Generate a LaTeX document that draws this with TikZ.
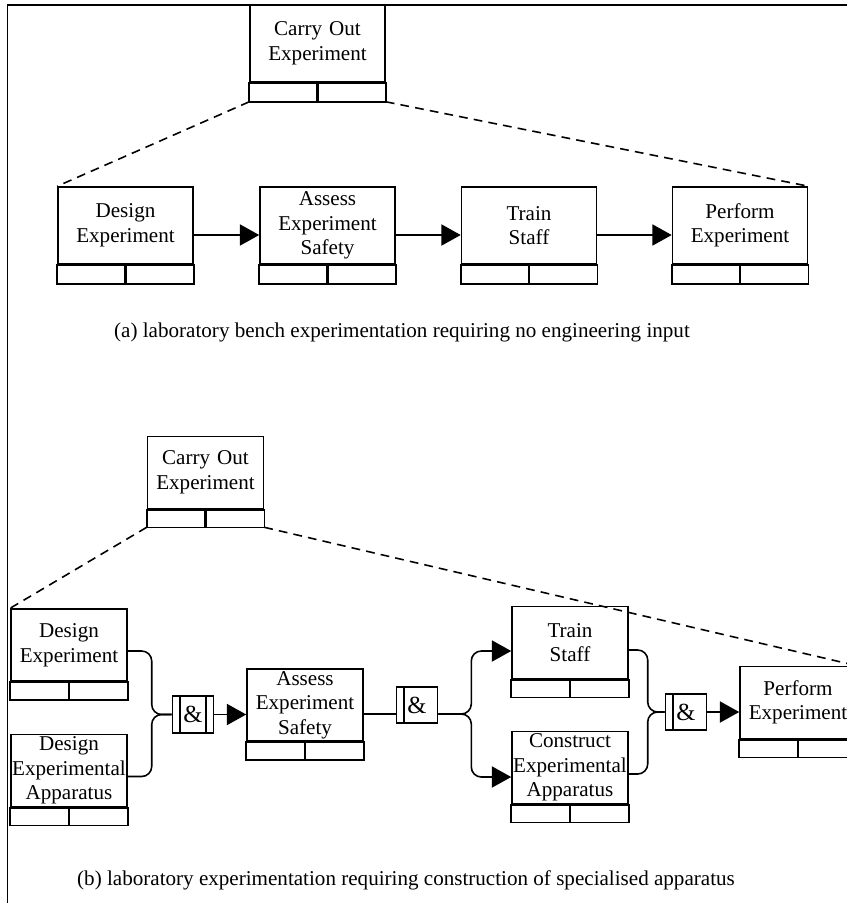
\documentclass[tikz,border=0pt]{standalone}
\usepackage{fontspec}
\setmainfont{Liberation Serif}
\usetikzlibrary{arrows.meta}

\newcommand{\uobfont}{\fontsize{12}{14}\selectfont}
\newcommand{\juncfont}{\fontsize{14}{16}\selectfont}

\tikzset{
	uob/.style={draw, line width=0.9pt, inner sep=0pt, align=center, font=\uobfont},
	uobA/.style={uob, text width=27mm, minimum height=15.4mm},
	uobB/.style={uob, text width=23.2mm, minimum height=14.4mm},
	flow/.style={line width=0.9pt, -{Triangle[length=11pt,width=12pt]}},
	link/.style={line width=0.9pt, rounded corners=2mm},
	decomp/.style={line width=0.9pt, dash pattern=on 5pt off 3.5pt},
	junc/.style={draw, line width=0.9pt, inner sep=0pt, minimum width=8.2mm, minimum height=7.3mm, font=\juncfont,
		path picture={\draw[line width=0.9pt] ([xshift=1.5mm]path picture bounding box.south west) -- ([xshift=1.5mm]path picture bounding box.north west);}},
	juncboth/.style={junc,
		path picture={\draw[line width=0.9pt] ([xshift=1.5mm]path picture bounding box.south west) -- ([xshift=1.5mm]path picture bounding box.north west)
			([xshift=-1.5mm]path picture bounding box.south east) -- ([xshift=-1.5mm]path picture bounding box.north east);}},
}

\begin{document}
\begin{tikzpicture}[x=0.2mm, y=-0.2mm]
		\useasboundingbox (0,0) rectangle (847,903);
		\draw[line width=1.1pt] (847,5) -- (7.5,5) -- (7.5,903);
		
		% (a) bench experimentation
		\node[uobA] (ce1) at (317.5,43.5) {Carry Out\\Experiment};
		\node[uobA] (de1) at (125.5,225.5) {Design\\Experiment};
		\node[uobA] (ae1) at (327.5,225.5) {Assess\\Experiment\\Safety};
		\node[uobA] (ts1) at (529,225.5) {Train\\Staff};
		\node[uobA] (pe1) at (740,225.5) {Perform\\Experiment};
		\node[font=\uobfont] (capa) at (402,332) {(a) laboratory bench experimentation requiring no engineering input};
		
		\foreach \n in {ce1,de1,ae1,ts1,pe1} {
			\draw[line width=0.9pt] (\n.south west) rectangle ([yshift=-3.8mm]\n.south east);
			\draw[line width=1.4pt] (\n.south west) -- (\n.south east) (\n.south) -- ([yshift=-3.8mm]\n.south);
		}
		
		\draw[flow] ([yshift=-1.9mm]de1.east) -- ([yshift=-1.9mm]ae1.west);
		\draw[flow] ([yshift=-1.9mm]ae1.east) -- ([yshift=-1.9mm]ts1.west);
		\draw[flow] ([yshift=-1.9mm]ts1.east) -- ([yshift=-1.9mm]pe1.west);
		\draw[decomp] ([yshift=-3.8mm]ce1.south west) -- (de1.north west);
		\draw[decomp] ([yshift=-3.8mm]ce1.south east) -- (pe1.north east);
		
		% (b) experimentation with apparatus
		\node[uobB] (ce2) at (205.5,472.5) {Carry Out\\Experiment};
		\node[uobB] (de2) at (69,645) {Design\\Experiment};
		\node[uobB] (da2) at (69,770.5) {Design\\Experimental\\Apparatus};
		\node[uobB] (ae2) at (305,705) {Assess\\Experiment\\Safety};
		\node[uobB] (ts2) at (570,642.5) {Train\\Staff};
		\node[uobB] (ca2) at (570,767.5) {Construct\\Experimental\\Apparatus};
		\node[uobB] (pe2) at (798,702.5) {Perform\\Experiment};
		\node[juncboth] (j1) at (193,714.5) {\&};
		\node[junc] (j2) at (417,705) {\&};
		\node[junc] (j3) at (686,712) {\&};
		\node[font=\uobfont] (capb) at (406,880) {(b) laboratory experimentation requiring construction of specialised apparatus};
		
		\foreach \n in {ce2,de2,da2,ae2,ts2,ca2,pe2} {
			\draw[line width=0.9pt] (\n.south west) rectangle ([yshift=-3.6mm]\n.south east);
			\draw[line width=1.4pt] (\n.south west) -- (\n.south east) (\n.south) -- ([yshift=-3.6mm]\n.south);
		}
		
		\draw[decomp] ([yshift=-3.6mm]ce2.south west) -- (de2.north west);
		\draw[decomp] ([yshift=-3.6mm]ce2.south east) -- (pe2.north east);
		
		\draw[link] ([yshift=-1.2mm]de2.east) -| ([xshift=-4mm]j1.west) -- (j1.west);
		\draw[link] ([yshift=-1.2mm]da2.east) -| ([xshift=-4mm]j1.west) -- (j1.west);
		\draw[flow] (j1.east) -- (j1.east -| ae2.west);
		\draw[line width=0.9pt] ([yshift=-1.8mm]ae2.east) -- ([yshift=-1.8mm]j2.west);
		\draw[link, flow] ([yshift=-1.8mm]j2.east) -- ++(6.6mm,0) |- ([yshift=-1.7mm]ts2.west);
		\draw[link, flow] ([yshift=-1.8mm]j2.east) -- ++(6.6mm,0) |- ([yshift=-1.9mm]ca2.west);
		\draw[link] ([yshift=-1.5mm]ts2.east) -| ([xshift=-3.4mm]j3.west) -- (j3.west);
		\draw[link] ([yshift=-1.3mm]ca2.east) -| ([xshift=-3.4mm]j3.west) -- (j3.west);
		\draw[flow] (j3.east) -- (j3.east -| pe2.west);
	\end{tikzpicture}
\end{document}
